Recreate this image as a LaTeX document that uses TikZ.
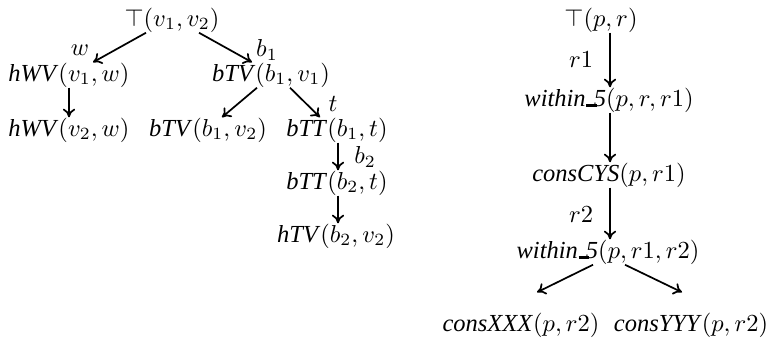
\documentclass[tikz,border=0pt]{standalone}
\usepackage{fontspec}
\setmainfont{Liberation Serif}
\usetikzlibrary{calc,arrows.meta}
\newcommand\myusc{\kern0.03em\rule[-0.03em]{0.42em}{0.11em}\kern-0.12em}
\begin{document}
\begin{tikzpicture}[x=0.408pt,y=-0.408pt,
  every node/.style={inner sep=0pt},
  lbl/.style={},
  arr/.style={-{To[length=3.5pt,width=5pt]}, line width=0.7pt}]
\useasboundingbox (0,0) rectangle (769,338);
% left tree
\node (root) at (172,20) {$\top(v_1,v_2)$};
\node (hwv1) at (69,75) {\textit{hWV}$(v_1,w)$};
\node (btv1) at (271,75) {\textit{bTV}$(b_1,v_1)$};
\node (hwv2) at (69,130) {\textit{hWV}$(v_2,w)$};
\node (btv2) at (208,130) {\textit{bTV}$(b_1,v_2)$};
\node (btt1) at (337,130) {\textit{bTT}$(b_1,t)$};
\node (btt2) at (337,183) {\textit{bTT}$(b_2,t)$};
\node (htv) at (336,236) {\textit{hTV}$(b_2,v_2)$};
\node[lbl] (lw) at (80,50) {$w$};
\node[lbl] (lb1) at (267,50) {$b_1$};
\node[lbl] (lt) at (333,104) {$t$};
\node[lbl] (lb2) at (365,157) {$b_2$};
\draw[arr] ($(root.south)+(-26,0)$) -- ($(hwv1.north)+(24,0)$);
\draw[arr] ($(root.south)+(27,0)$) -- ($(btv1.north)+(-19,0)$);
\draw[arr] (hwv1.south) -- (hwv2.north);
\draw[arr] ($(btv1.south)+(-14,0)$) -- ($(btv2.north)+(14,0)$);
\draw[arr] ($(btv1.south)+(19,0)$) -- ($(btt1.north)+(-17,0)$);
\draw[arr] ($(btt1.south)+(1,0)$) -- ($(btt2.north)+(1,0)$);
\draw[arr] ($(btt2.south)+(1,0)$) -- ($(htv.north)+(2,0)$);
% right tree
\node (top) at (601,20) {$\top(p,r)$};
\node (w1) at (609,100) {\textit{within\myusc 5}$(p,r,r1)$};
\node (cys) at (609,175) {\textit{consCYS}$(p,r1)$};
\node (w2) at (608,252) {\textit{within\myusc 5}$(p,r1,r2)$};
\node (xxx) at (521,325) {\textit{consXXX}$(p,r2)$};
\node (yyy) at (691,325) {\textit{consYYY}$(p,r2)$};
\node[lbl] (lr1) at (581,60) {$r1$};
\node[lbl] (lr2) at (581,215) {$r2$};
\draw[arr] ($(top.south)+(9,0)$) -- ($(w1.north)+(1,0)$);
\draw[arr] ($(w1.south)+(1,0)$) -- ($(cys.north)+(1,0)$);
\draw[arr] ($(cys.south)+(1,0)$) -- ($(w2.north)+(2,0)$);
\draw[arr] ($(w2.south)+(-15,0)$) -- ($(xxx.north)+(16,-20)$);
\draw[arr] ($(w2.south)+(17,0)$) -- ($(yyy.north)+(-9,-20)$);
\end{tikzpicture}
\end{document}
